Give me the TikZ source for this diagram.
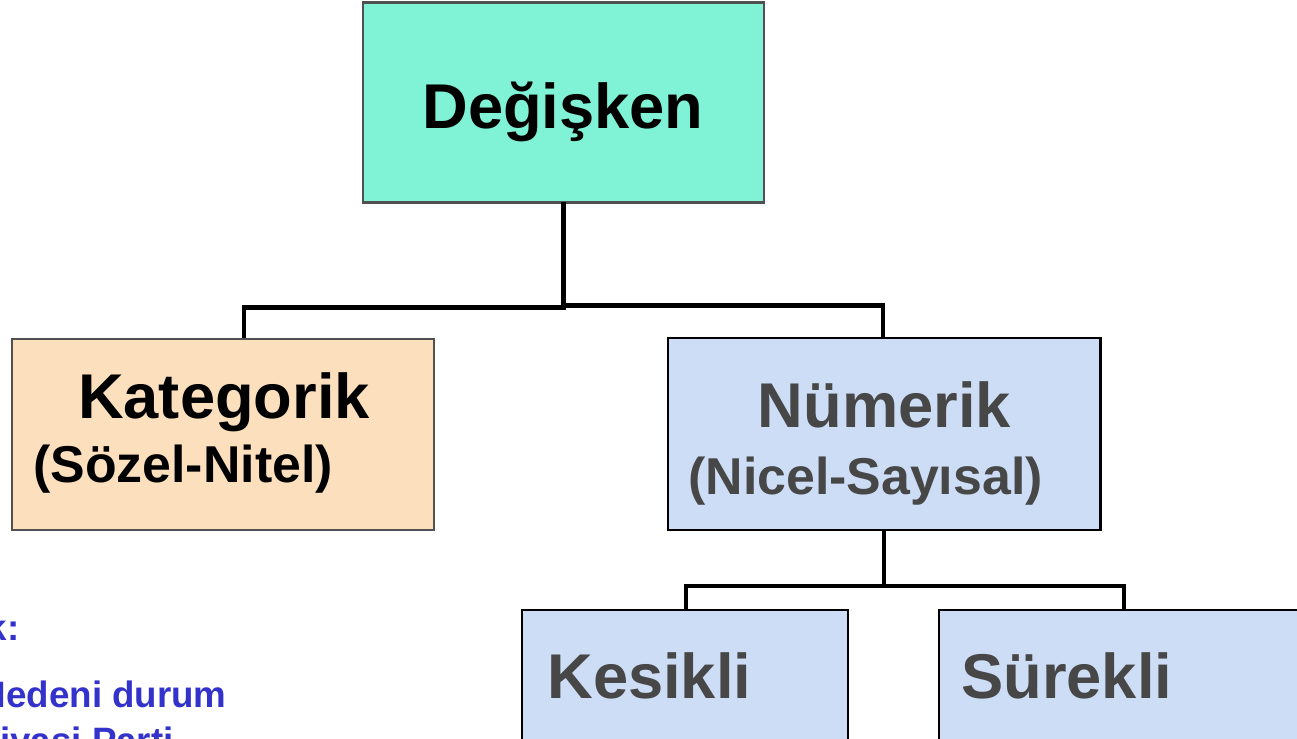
\documentclass[tikz,border=0pt]{standalone}
\usepackage{fontspec}
\setmainfont{Liberation Sans}
\definecolor{varfill}{RGB}{128,242,214}
\definecolor{katfill}{RGB}{252,224,190}
\definecolor{numfill}{RGB}{204,221,245}
\definecolor{boxline}{RGB}{80,80,80}
\definecolor{darktext}{RGB}{71,71,71}
\definecolor{exblue}{RGB}{51,51,204}
\newcommand{\fs}[1]{\fontsize{#1}{1.2\dimexpr#1pt\relax}\selectfont\bfseries}
\tikzset{
  box/.style={draw, rectangle, inner sep=0pt, outer sep=0pt, line width=1.2pt},
  conn/.style={draw=black, line width=2.3pt, line join=miter},
  lbl/.style={inner sep=0pt, font=\fs{36}},
  sublbl/.style={inner sep=0pt, font=\fs{29.5}},
  extxt/.style={inner sep=0pt, text=exblue, font=\fs{20.9}}
}
\begin{document}
\begin{tikzpicture}[x=0.02cm, y=-0.02cm]
\useasboundingbox (0,0) rectangle (1297,738);
\clip (0,0) rectangle (1297,738);

% boxes (sizes in cm: one unit is 0.02cm)
\node[box, draw=boxline, fill=varfill, minimum width=8.02cm, minimum height=4.0cm] (var) at (563.5,102.5) {};
\node[box, draw=boxline, fill=katfill, minimum width=8.44cm, minimum height=3.82cm] (kat) at (223,434.5) {};
\node[box, draw=black, fill=numfill, minimum width=8.66cm, minimum height=3.84cm] (num) at (884,434) {};
\node[box, draw=black, fill=numfill, minimum width=6.52cm, minimum height=4.0cm] (kes) at (685,710) {};
\node[box, draw=black, fill=numfill, minimum width=7.62cm, minimum height=4.0cm] (sur) at (1129.5,710) {};

% box texts
\node[lbl, anchor=base] (tvar) at (563,128) {Değişken};
\node[lbl, anchor=base] (tkat) at (224,418) {Kategorik};
\node[sublbl, anchor=base west] (tkat2) at (33,482) {(Sözel-Nitel)};
\node[lbl, anchor=base, text=darktext] (tnum) at (884.5,427) {Nümerik};
\node[sublbl, anchor=base west, text=darktext] (tnum2) at (688,494) {(Nicel-Sayısal)};
\node[lbl, anchor=base west, text=darktext] (tkes) at (547,698) {Kesikli};
\node[lbl, anchor=base west, text=darktext] (tsur) at (961,698) {Sürekli};

% connector end points on the box tops
\coordinate (katIn) at (244,338);
\coordinate (numIn) at (883,338);
\coordinate (kesIn) at (686,610);
\coordinate (surIn) at (1124,610);

% tree connectors
\draw[conn] (var.south) -- ++(0,105) -| (katIn);
\draw[conn] (var.south) -- ++(0,103) -| (numIn);
\draw[conn] (num.south) -- ++(0,56) -| (kesIn);
\draw[conn] (num.south) -- ++(0,56) -| (surIn);

% example text at the left
\node[extxt, anchor=base east] (ex0) at (20,640) {Örnek:};
\node[extxt, anchor=base east] (ex1) at (227,707) {Medeni durum};
\node[extxt, anchor=base west] (ex2) at ([yshift=-46*0.02cm]ex1.base west) {Siyasi Parti};
\end{tikzpicture}
\end{document}
